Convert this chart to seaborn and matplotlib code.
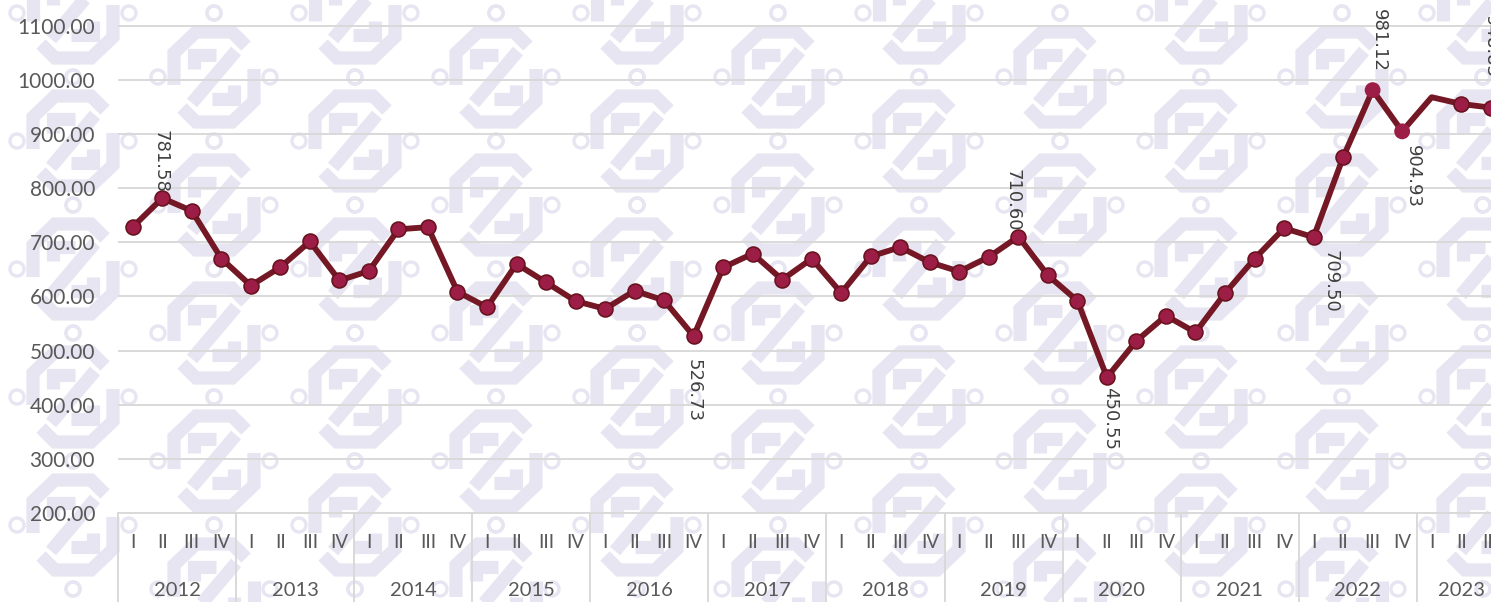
import matplotlib
matplotlib.use("Agg")
import matplotlib.pyplot as plt
import matplotlib.transforms as mtransforms
from matplotlib.patches import Circle
import numpy as np
import seaborn as sns

# quarterly series, 2012 I .. 2023 III
years = [str(y) for y in range(2012, 2024)]
quarters = ["I", "II", "III", "IV"]
quarters_per_year = [4] * 11 + [3]
values = [
    728.40, 781.58, 758.00, 670.00,
    620.00, 654.00, 701.50, 629.50,
    647.00, 724.00, 728.00, 608.70,
    580.00, 660.00, 626.00, 591.50,
    577.00, 610.50, 592.60, 526.73,
    653.50, 679.00, 631.00, 669.60,
    606.50, 674.00, 691.00, 663.00,
    646.00, 673.00, 710.60, 639.00,
    592.00, 450.55, 518.00, 564.40,
    533.60, 606.00, 669.60, 726.00,
    709.50, 857.00, 981.12, 904.93,
    968.00, 955.50, 948.83,
]
labeled = [1, 19, 30, 33, 40, 42, 43, 46]
no_marker = [44]
no_edge = [42, 43]

# label offsets in pixels (dx, dy, va)
label_offsets = [(-2, 5, "bottom"), (0, -23, "top"), (-6, 5, "bottom"), (3, -10, "top"),
                 (17, -13, "top"), (6, 18, "bottom"), (11, -14, "top"), (0, 30, "bottom")]

LINE = "#731824"
FILL = "#9C1D45"
EDGE = "#6A1320"
GRID = "#D9D9D9"
TXT = "#595959"
WM = "#E7E5F1"

sns.set_theme(style="white")
plt.rcParams["font.family"] = ["Lato", "DejaVu Sans"]

W, H = 1491, 602
fig = plt.figure(figsize=(W / 100, H / 100), dpi=100)

# watermark background pattern (pixel coordinates)
bg = fig.add_axes([0, 0, 1, 1], zorder=0)
bg.set_xlim(0, W)
bg.set_ylim(H, 0)
bg.axis("off")
strokes = [
    [(-40, 8), (-40, -24), (-18, -45), (18, -45), (32, -31)],
    [(40, -8), (40, 24), (18, 45), (-18, 45), (-32, 31)],
    [(-22, 26), (22, -26)],
    [(-20, -8), (-20, -22), (2, -22)],
    [(20, 8), (20, 22), (-2, 22)],
]
for j in range(-1, 12):
    cx = 73 + 141 * j
    for m in range(-1, 6):
        cy = 13 + 64 * (j % 2) + 128 * m
        for s in strokes:
            bg.plot([cx + p[0] for p in s], [cy + p[1] for p in s], color=WM,
                    lw=9.5, solid_capstyle="butt", solid_joinstyle="miter")
        for ox, oy in [(-56, 0), (56, 0), (0, -64), (0, 64)]:
            bg.add_patch(Circle((cx + ox, cy + oy), 7, facecolor="none", edgecolor=WM, lw=2.4))

ax = fig.add_axes([118 / W, 89 / H, 1 - 118 / W, 513 / H], zorder=1)
ax.patch.set_alpha(0)

idx = np.arange(len(values))
vals = np.array(values)

sns.lineplot(x=idx, y=vals, ax=ax, color=LINE, linewidth=4.2, zorder=3)
mask_edge = np.array([i not in no_marker and i not in no_edge for i in idx])
mask_plain = np.array([i in no_edge for i in idx])
sns.scatterplot(x=idx[mask_edge], y=vals[mask_edge], ax=ax, s=115, color=FILL,
                edgecolor=EDGE, linewidth=1.2, zorder=4)
sns.scatterplot(x=idx[mask_plain], y=vals[mask_plain], ax=ax, s=130, color=FILL,
                edgecolor="none", zorder=4)

ax.set_xlim(-0.5, 46.01)
ax.set_ylim(200, 200 + 513 / 0.5414)
ax.set_yticks(np.arange(200, 1101, 100))
ax.yaxis.set_major_formatter(matplotlib.ticker.FuncFormatter(lambda v, p: f"{v:.2f}"))
ax.tick_params(axis="y", length=0, pad=16.5, labelsize=15, labelcolor=TXT)
ax.set_xticks([])
ax.yaxis.grid(True, color=GRID, lw=1.4)
ax.set_axisbelow(True)
for side in ["top", "right", "left"]:
    ax.spines[side].set_visible(False)
ax.spines["bottom"].set_color(GRID)
ax.spines["bottom"].set_linewidth(1.4)
ax.set_xlabel("")
ax.set_ylabel("")

# data labels
for i, (dx, dy, va) in zip(labeled, label_offsets):
    ax.annotate(f"{values[i]:.2f}", (i, values[i]), xytext=(dx * 0.72, dy * 0.72),
                textcoords="offset points", rotation=-90, ha="center", va=va,
                fontsize=13, color="#404040", family="DejaVu Sans",
                annotation_clip=False, zorder=5)

# two-level category axis
trans = mtransforms.blended_transform_factory(ax.transData, ax.transAxes)
k = 0
for y, n in zip(years, quarters_per_year):
    for q in quarters[:n]:
        ax.text(k, -30 / 513, q, transform=trans, ha="center", va="center",
                fontsize=13.5, color=TXT, clip_on=False)
        k += 1
    ax.text(k - n + (n - 1) / 2, -77 / 513, y, transform=trans, ha="center", va="center",
            fontsize=14.5, color=TXT, clip_on=False)
    ax.plot([k - n - 0.5] * 2, [0, -89 / 513], transform=trans, color=GRID,
            lw=1.4, clip_on=False)

fig.savefig("out.png", dpi=100)
